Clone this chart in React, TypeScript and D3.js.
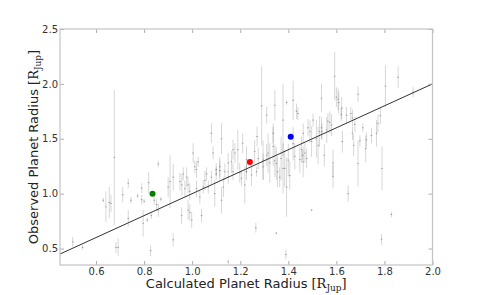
import React, { useEffect, useRef } from 'react'
import { select, scaleLinear, axisBottom, axisLeft, axisTop, axisRight, line } from 'd3'

// calculated radius, observed radius, observed error (R_Jup)
const calcR = [
  0.503, 0.544, 0.676, 0.63, 0.641, 0.655, 0.662, 0.683, 0.692, 0.711, 0.734, 0.734, 0.745, 0.773, 0.79, 0.79,
  0.796, 0.80, 0.813, 0.819, 0.827, 0.83, 0.842, 0.852, 0.859, 0.859, 0.87, 0.90, 0.908, 0.921, 0.921, 0.949,
  0.956, 0.963, 0.97, 0.983, 0.983, 0.99, 0.998, 1.004, 1.011, 1.018, 1.025, 1.039, 1.046, 1.06, 1.067, 1.08,
  1.08, 1.087, 1.094, 1.10, 1.115, 1.122, 1.122, 1.136, 1.15, 1.15, 1.164, 1.17, 1.178, 1.19, 1.198, 1.21,
  1.219, 1.226, 1.247, 1.26, 1.265, 1.275, 1.27, 1.289, 1.295, 1.31, 1.316, 1.323, 1.337, 1.344, 1.35, 1.35,
  1.355, 1.37, 1.378, 1.385, 1.393, 1.39, 1.393, 1.40, 1.42, 1.427, 1.434, 1.44, 1.448, 1.46, 1.462, 1.469,
  1.476, 1.482, 1.497, 1.497, 1.503, 1.517, 1.524, 1.53, 1.538, 1.54, 1.55, 1.56, 1.565, 1.58, 1.586, 1.593,
  1.60, 1.607, 1.61, 1.62, 1.622, 1.625, 1.642, 1.649, 1.66, 1.667, 1.667, 1.672, 1.677, 1.69, 1.69, 1.698,
  1.71, 1.722, 1.725, 1.746, 1.767, 1.773, 1.783, 1.79, 1.788, 1.804, 1.829, 1.857, 1.919,
  0.977, 1.018, 1.053, 1.115, 1.15, 1.17, 1.205, 1.226, 1.268, 0.957, 1.032, 1.13, 1.1, 0.99,
  1.31, 1.337, 1.344, 1.378, 1.42, 1.455, 1.49, 1.538, 1.573, 1.586, 1.295, 1.364, 1.406, 1.462,
]
const obsR = [
  0.56, 0.51, 1.33, 0.94, 0.88, 0.92, 0.91, 0.51, 0.51, 0.99, 1.095, 0.775, 0.94, 0.98, 1.05, 0.945,
  0.73, 0.93, 0.76, 1.10, 0.48, 0.80, 0.94, 0.90, 1.27, 0.85, 0.95, 1.06, 1.11, 1.15, 0.58, 1.11,
  0.80, 1.18, 1.045, 1.08, 0.85, 0.83, 0.76, 1.37, 1.245, 1.045, 1.29, 0.80, 1.06, 1.18, 1.06, 1.55,
  1.15, 1.37, 1.0, 1.22, 1.21, 1.5, 0.94, 1.2, 1.15, 0.38, 1.29, 1.2, 1.37, 1.4, 1.19, 1.46,
  1.08, 1.31, 1.17, 1.385, 0.69, 1.32, 1.52, 1.8, 1.305, 1.715, 1.37, 1.28, 1.43, 1.805, 1.275, 0.64,
  1.2, 1.32, 1.67, 1.23, 1.06, 0.445, 1.83, 1.305, 1.85, 1.34, 1.75, 1.73, 1.31, 1.35, 1.55, 1.37,
  1.32, 1.6, 1.475, 0.85, 1.67, 1.5, 1.44, 1.565, 1.87, 1.565, 1.35, 1.58, 1.66, 1.625, 1.155, 2.07,
  1.88, 1.86, 1.83, 1.72, 1.78, 1.475, 1.715, 1.0, 1.73, 1.55, 1.69, 1.44, 1.63, 1.905, 1.275, 1.48,
  1.6, 1.41, 1.49, 1.53, 1.55, 1.64, 1.71, 1.23, 0.585, 1.98, 0.81, 2.06, 1.925,
  1.15, 1.22, 1.12, 1.245, 1.28, 1.4, 1.14, 1.2, 1.2, 1.08, 0.97, 1.06, 1.18, 1.02,
  1.35, 1.55, 1.3, 1.23, 1.455, 1.4, 1.565, 1.6, 1.65, 1.28, 1.245, 1.15, 1.165, 1.29,
]
const obsErr = [
  0.045, 0.02, 0.615, 0.02, 0.14, 0.14, 0.08, 0.05, 0.08, 0.07, 0.045, 0.075, 0.03, 0.02, 0.045, 0.045,
  0.12, 0.02, 0.02, 0.1, 0.05, 0.03, 0.045, 0.055, 0.03, 0.06, 0.02, 0.09, 0.24, 0.12, 0.06, 0.08,
  0.075, 0.06, 0.075, 0.075, 0.09, 0.075, 0.075, 0.09, 0.06, 0.075, 0.045, 0.06, 0.06, 0.06, 0.06, 0.09,
  0.06, 0.06, 0.12, 0.06, 0.09, 0.14, 0.12, 0.075, 0.06, 0.02, 0.1, 0.075, 0.09, 0.18, 0.09, 0.09,
  0.17, 0.12, 0.1, 0.1, 0.045, 0.1, 0.09, 0.36, 0.18, 0.075, 0.18, 0.18, 0.18, 0.14, 0.15, 0.01,
  0.14, 0.2, 0.33, 0.17, 0.27, 0.045, 0.02, 0.15, 0.18, 0.12, 0.07, 0.06, 0.12, 0.05, 0.09, 0.09,
  0.09, 0.08, 0.14, 0.01, 0.06, 0.17, 0.17, 0.14, 0.13, 0.075, 0.1, 0.12, 0.075, 0.1, 0.11, 0.22,
  0.09, 0.1, 0.1, 0.06, 0.1, 0.1, 0.075, 0.075, 0.06, 0.06, 0.075, 0.1, 0.07, 0.07, 0.21, 0.05,
  0.04, 0.12, 0.07, 0.07, 0.12, 0.08, 0.08, 0.2, 0.05, 0.19, 0.025, 0.1, 0.045,
  0.09, 0.075, 0.09, 0.09, 0.09, 0.09, 0.075, 0.075, 0.045, 0.1, 0.06, 0.09, 0.06, 0.075,
  0.1, 0.09, 0.15, 0.23, 0.15, 0.12, 0.1, 0.1, 0.1, 0.12, 0.12, 0.09, 0.13, 0.14,
]

// highlighted planets
const highlightCalc = [0.835, 1.24, 1.41]
const highlightObs = [1.0, 1.288, 1.518]
const highlightColors = ['#008000', '#ff0000', '#0000ff']

const oneToOne = [0.45, 2.0]
const xTicks = [0.6, 0.8, 1.0, 1.2, 1.4, 1.6, 1.8, 2.0]
const yTicks = [0.5, 1.0, 1.5, 2.0, 2.5]

function App() {
  const ref = useRef(null)

  useEffect(() => {
    const W = 480, H = 295
    const margin = { top: 29, right: 47.5, bottom: 30, left: 60 }
    const width = W - margin.left - margin.right
    const height = H - margin.top - margin.bottom

    const root = select(ref.current)
    root.selectAll('*').remove()
    const svg = root.append('g').attr('transform', `translate(${margin.left},${margin.top})`)

    const x = scaleLinear().domain([0.45, 2.0]).range([0, width])
    const y = scaleLinear().domain([0.35, 2.5]).range([height, 0])

    // error bars
    const bars = svg.append('g')
    calcR.forEach((cx, i) => {
      bars.append('line')
        .attr('x1', x(cx)).attr('x2', x(cx))
        .attr('y1', y(obsR[i] - obsErr[i])).attr('y2', y(obsR[i] + obsErr[i]))
        .attr('stroke', 'rgba(0,0,0,0.16)')
        .attr('stroke-width', 1)
      bars.append('line')
        .attr('x1', x(cx) - 0.8).attr('x2', x(cx) + 0.8)
        .attr('y1', y(obsR[i])).attr('y2', y(obsR[i]))
        .attr('stroke', 'rgba(0,0,0,0.3)')
        .attr('stroke-width', 1)
    })

    // one-to-one line
    svg.append('path')
      .datum(oneToOne)
      .attr('d', line<number>().x(d => x(d)).y(d => y(d)))
      .attr('fill', 'none')
      .attr('stroke', '#333')
      .attr('stroke-width', 1)

    svg.selectAll('circle.hl')
      .data(highlightCalc)
      .enter()
      .append('circle')
      .attr('cx', d => x(d))
      .attr('cy', (d, i) => y(highlightObs[i]))
      .attr('r', 3)
      .attr('fill', (d, i) => highlightColors[i])

    // axes, ticks pointing inward on all sides
    const styleAxis = (g, labels) => {
      g.select('.domain').remove()
      g.selectAll('.tick line').attr('stroke', '#999').attr('stroke-width', 0.8)
      g.selectAll('.tick text')
        .attr('font-family', 'DejaVu Sans')
        .attr('font-size', 10)
        .attr('fill', '#333')
      if (!labels) g.selectAll('.tick text').remove()
    }
    svg.append('g').attr('transform', `translate(0,${height})`)
      .call(axisBottom(x).tickValues(xTicks).tickFormat(d => d.toFixed(1)).tickSizeInner(-4).tickPadding(3))
      .call(g => styleAxis(g, true))
    svg.append('g')
      .call(axisTop(x).tickValues(xTicks).tickSizeInner(-4))
      .call(g => styleAxis(g, false))
    svg.append('g')
      .call(axisLeft(y).tickValues(yTicks).tickFormat(d => d.toFixed(1)).tickSizeInner(-4).tickPadding(2))
      .call(g => styleAxis(g, true))
    svg.append('g').attr('transform', `translate(${width},0)`)
      .call(axisRight(y).tickValues(yTicks).tickSizeInner(-4))
      .call(g => styleAxis(g, false))

    svg.append('rect')
      .attr('width', width).attr('height', height)
      .attr('fill', 'none')
      .attr('stroke', '#c4c4c4')
      .attr('stroke-width', 1.2)

    // axis labels
    const addLabel = (g, text) => {
      g.append('tspan').text(text)
      g.append('tspan').attr('font-family', 'DejaVu Serif').text('[R')
      g.append('tspan').attr('font-family', 'DejaVu Serif').attr('font-size', 9).attr('dy', 2.5).text('Jup')
      g.append('tspan').attr('font-family', 'DejaVu Serif').attr('dy', -2.5).text(']')
    }
    const xl = svg.append('text')
      .attr('x', width / 2).attr('y', height + 23)
      .attr('text-anchor', 'middle')
      .attr('font-family', 'DejaVu Sans').attr('font-size', 13).attr('fill', '#222')
    addLabel(xl, 'Calculated Planet Radius ')
    const yl = svg.append('text')
      .attr('transform', `translate(${-22},${height / 2}) rotate(-90)`)
      .attr('text-anchor', 'middle')
      .attr('font-family', 'DejaVu Sans').attr('font-size', 13).attr('fill', '#222')
    addLabel(yl, 'Observed Planet Radius ')
  }, [])

  return (
    <svg ref={ref} width={480} height={295}
      style={{ position: 'absolute', left: 0, top: 0, background: '#fff' }}></svg>
  )
}

export default App
